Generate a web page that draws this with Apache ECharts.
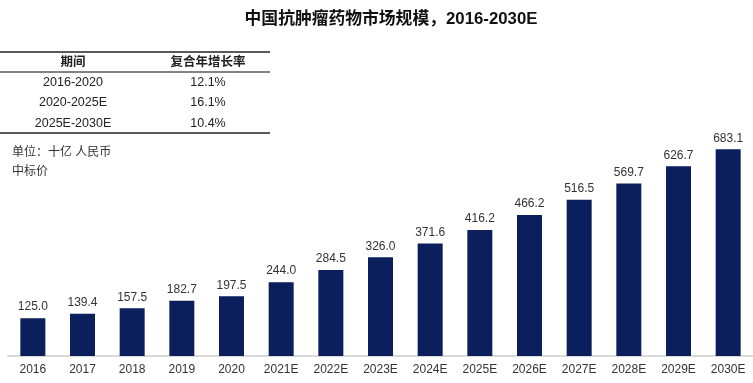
<!DOCTYPE html>
<html><head><meta charset="utf-8">
<script src="https://cdn.jsdelivr.net/npm/echarts@6/dist/echarts.min.js"></script>
<style>html,body{margin:0;padding:0;background:#fff}#c{width:753px;height:383px}</style>
</head><body><div id="c"></div>
<script>
const categories = ['2016','2017','2018','2019','2020','2021E','2022E','2023E','2024E','2025E','2026E','2027E','2028E','2029E','2030E'];
const marketSize = [125.0,139.4,157.5,182.7,197.5,244.0,284.5,326.0,371.6,416.2,466.2,516.5,569.7,626.7,683.1];
const tableHeader = ['期间','复合年增长率'];
const tablePeriods = ['2016-2020','2020-2025E','2025E-2030E'];
const tableCagr = ['12.1%','16.1%','10.4%'];
const titleText = '中国抗肿瘤药物市场规模，2016-2030E';
const unitText = '单位：十亿 人民币';
const noteText = '中标价';

const FONT = '"Liberation Sans", Arial, "Noto Sans CJK SC", sans-serif';
const chart = echarts.init(document.getElementById('c'));

const g = [];
const lineColor = '#5a5a5a';
g.push({type:'line', shape:{x1:0,y1:52,x2:270,y2:52}, style:{stroke:lineColor,lineWidth:2}});
g.push({type:'line', shape:{x1:0,y1:72,x2:270,y2:72}, style:{stroke:lineColor,lineWidth:1.5}});
g.push({type:'line', shape:{x1:0,y1:133,x2:270,y2:133}, style:{stroke:lineColor,lineWidth:2}});
const col1 = 73, col2 = 208;
g.push({type:'text', x:col1, y:63, style:{text:tableHeader[0], font:'bold 12.5px '+FONT, fill:'#222', align:'center', verticalAlign:'middle'}});
g.push({type:'text', x:col2, y:63, style:{text:tableHeader[1], font:'bold 12.5px '+FONT, fill:'#222', align:'center', verticalAlign:'middle'}});
const rowY = [83,103,124];
tablePeriods.forEach((p,i)=>{
  g.push({type:'text', x:col1, y:rowY[i], style:{text:p, font:'12.5px '+FONT, fill:'#222', align:'center', verticalAlign:'middle'}});
  g.push({type:'text', x:col2, y:rowY[i], style:{text:tableCagr[i], font:'12.5px '+FONT, fill:'#222', align:'center', verticalAlign:'middle'}});
});
g.push({type:'text', x:12, y:153, style:{text:unitText, font:'12px '+FONT, fill:'#333', align:'left', verticalAlign:'middle'}});
g.push({type:'text', x:12, y:172, style:{text:noteText, font:'12px '+FONT, fill:'#333', align:'left', verticalAlign:'middle'}});

chart.setOption({
  animation:false,
  title:{text:titleText, left:386, top:6, textAlign:'center', textStyle:{fontFamily:FONT, fontSize:16.8, fontWeight:'bold', color:'#111'}},
  grid:{left:8, right:0, top:53.4, bottom:27, containLabel:false},
  xAxis:{type:'category', data:categories,
    axisLine:{lineStyle:{color:'#d9d9d9', width:2}}, axisTick:{show:false},
    axisLabel:{color:'#333', fontFamily:FONT, fontSize:12, margin:8, interval:0}},
  yAxis:{type:'value', min:0, max:1000, show:false, splitLine:{show:false}},
  series:[{type:'bar', data:marketSize, barWidth:25,
    itemStyle:{color:'#0a1f5c'},
    label:{show:true, position:'top', distance:5, color:'#333', fontFamily:FONT, fontSize:12,
      formatter:p=>p.value.toFixed(1)}}],
  graphic:g
});
</script></body></html>
